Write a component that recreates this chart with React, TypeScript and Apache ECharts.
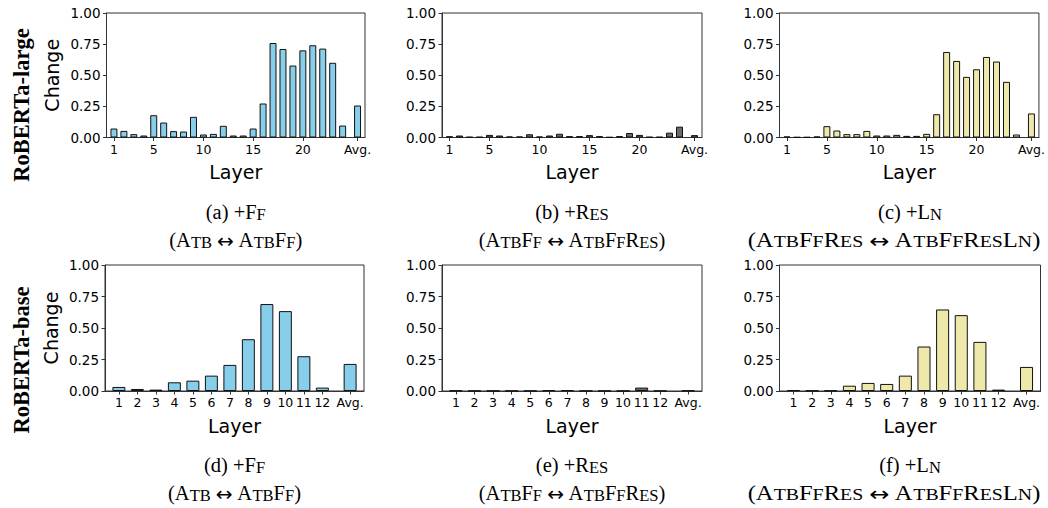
import React, { useEffect, useRef } from "react";
import * as echarts from "echarts";

// ---- data ----
const largeTickLabels = ["1", "5", "10", "15", "20", "Avg."];
const baseTickLabels = ["1", "2", "3", "4", "5", "6", "7", "8", "9", "10", "11", "12", "Avg."];

const largeFf = [0.072, 0.053, 0.027, 0.016, 0.179, 0.12, 0.051, 0.048, 0.166, 0.024, 0.029, 0.094, 0.016, 0.016, 0.072, 0.273, 0.759, 0.711, 0.578, 0.7, 0.741, 0.714, 0.6, 0.096];
const largeFfAvg = 0.257;
const largeRes = [0.01, 0.016, 0.005, 0.005, 0.021, 0.016, 0.008, 0.008, 0.026, 0.008, 0.016, 0.03, 0.011, 0.011, 0.019, 0.011, 0.003, 0.011, 0.036, 0.021, 0.005, 0.005, 0.039, 0.087];
const largeResAvg = 0.019;
const largeLn = [0.008, 0.003, 0.003, 0.008, 0.091, 0.056, 0.027, 0.027, 0.053, 0.016, 0.016, 0.021, 0.013, 0.013, 0.029, 0.187, 0.687, 0.615, 0.487, 0.548, 0.647, 0.61, 0.447, 0.024];
const largeLnAvg = 0.193;

const baseFf = [0.032, 0.016, 0.011, 0.069, 0.082, 0.122, 0.207, 0.411, 0.69, 0.634, 0.276, 0.027];
const baseFfAvg = 0.215;
const baseRes = [0.003, 0.001, 0.001, 0.001, 0.001, 0.006, 0.006, 0.001, 0.001, 0.001, 0.027, 0.001];
const baseResAvg = 0.004;
const baseLn = [0.008, 0.003, 0.003, 0.042, 0.064, 0.056, 0.122, 0.353, 0.647, 0.602, 0.39, 0.011];
const baseLnAvg = 0.191;

const rowLabels = ["RoBERTa-large", "RoBERTa-base"];
const captions = [
  { tag: "(a)", add: "Ff", from: "Atb", to: "AtbFf" },
  { tag: "(b)", add: "Res", from: "AtbFf", to: "AtbFfRes" },
  { tag: "(c)", add: "Ln", from: "AtbFfRes", to: "AtbFfResLn" },
  { tag: "(d)", add: "Ff", from: "Atb", to: "AtbFf" },
  { tag: "(e)", add: "Res", from: "AtbFf", to: "AtbFfRes" },
  { tag: "(f)", add: "Ln", from: "AtbFfRes", to: "AtbFfResLn" },
];

// ---- styles / layout ----
const SKY = "#87CEEB";
const GRAY = "#6b6b6b";
const GOLD = "#EEE8AA";
const SPINE = "#333333";

const rects = [
  { left: 106.5, top: 13, width: 258.5, height: 124.5 },
  { left: 442, top: 13, width: 260, height: 124.5 },
  { left: 779.5, top: 13, width: 261, height: 124.5 },
  { left: 105, top: 265, width: 259, height: 126 },
  { left: 442, top: 265, width: 260, height: 126 },
  { left: 779.5, top: 265, width: 261, height: 126 },
];
// caption line-2 placement tweaks (last column caption is wider in the reference)
const capLine2 = [
  { dx: 0, sx: 1 },
  { dx: 0, sx: 1 },
  { dx: -16, sx: 1.2 },
  { dx: 0, sx: 1 },
  { dx: 0, sx: 1 },
  { dx: -16, sx: 1.2 },
];

const panels = [
  { values: largeFf, avg: largeFfAvg, color: SKY, ticks: largeTickLabels },
  { values: largeRes, avg: largeResAvg, color: GRAY, ticks: largeTickLabels },
  { values: largeLn, avg: largeLnAvg, color: GOLD, ticks: largeTickLabels },
  { values: baseFf, avg: baseFfAvg, color: SKY, ticks: baseTickLabels },
  { values: baseRes, avg: baseResAvg, color: GRAY, ticks: baseTickLabels },
  { values: baseLn, avg: baseLnAvg, color: GOLD, ticks: baseTickLabels },
];

const sc = (s: string) => s.replace(/[a-z]+/g, (m) => `{sc|${m.toUpperCase()}}`);

function buildOption() {
  const grid: any[] = [];
  const xAxis: any[] = [];
  const yAxis: any[] = [];
  const series: any[] = [];
  const graphic: any[] = [];

  panels.forEach((p, i) => {
    const r = rects[i];
    const n = p.values.length;
    const avgPos = n + 1.5;
    const tickVals = p.ticks.map((t) => (t === "Avg." ? avgPos : Number(t)));
    const labelOf = (v: number) => {
      const k = tickVals.findIndex((t) => Math.abs(t - v) < 1e-6);
      return k >= 0 ? p.ticks[k] : "";
    };
    grid.push({ ...r, show: true, borderColor: SPINE, borderWidth: 1, containLabel: false });
    xAxis.push({
      type: "value",
      gridIndex: i,
      min: 0.25,
      max: avgPos + 0.75,
      name: "Layer",
      nameLocation: "middle",
      nameGap: 25,
      nameTextStyle: { fontFamily: "DejaVu Sans", fontSize: 19, color: "#000" },
      axisLine: { show: true, onZero: false, lineStyle: { color: SPINE, width: 1 } },
      axisTick: { show: true, length: 3.5, customValues: tickVals, lineStyle: { color: SPINE } },
      axisLabel: {
        customValues: tickVals,
        formatter: (v: number) => labelOf(v),
        fontFamily: "DejaVu Sans",
        fontSize: 12.5,
        color: "#000",
        margin: 5,
      },
      splitLine: { show: false },
    });
    yAxis.push({
      type: "value",
      gridIndex: i,
      min: 0,
      max: 1,
      interval: 0.25,
      name: i % 3 === 0 ? "Change" : "",
      nameLocation: "middle",
      nameGap: 45,
      nameTextStyle: { fontFamily: "DejaVu Sans", fontSize: 19, color: "#000" },
      axisLine: { show: true, onZero: false, lineStyle: { color: SPINE, width: 1 } },
      axisTick: { show: true, length: 3.5, lineStyle: { color: SPINE } },
      axisLabel: {
        formatter: (v: number) => v.toFixed(2),
        fontFamily: "DejaVu Sans",
        fontSize: 13.5,
        color: "#000",
        margin: 6,
      },
      splitLine: { show: false },
    });
    const data = p.values.map((v, k) => [k + 1, v]);
    data.push([avgPos, p.avg]);
    series.push({
      type: "bar",
      xAxisIndex: i,
      yAxisIndex: i,
      data,
      barWidth: "70%",
      itemStyle: { color: p.color, borderColor: "#111", borderWidth: 1 },
      silent: true,
    });

    const cx = r.left + r.width / 2;
    const c = captions[i];
    const y1 = i < 3 ? 212 : 465;
    const rich = {
      sc: { fontSize: 16.5, fontFamily: "Liberation Serif", fill: "#000", verticalAlign: "bottom" },
      ar: { fontSize: 20, fontFamily: "DejaVu Sans", fill: "#000", verticalAlign: "bottom" },
    };
    graphic.push({
      type: "text",
      x: cx,
      y: y1,
      style: {
        text: `${c.tag} +${sc(c.add)}`,
        fontSize: 20.5,
        fontFamily: "Liberation Serif",
        fill: "#000",
        align: "center",
        verticalAlign: "middle",
        rich,
      },
    });
    graphic.push({
      type: "text",
      x: cx + capLine2[i].dx,
      y: y1 + 28,
      scaleX: capLine2[i].sx,
      style: {
        text: `(${sc(c.from)} {ar|\u2194} ${sc(c.to)})`,
        fontSize: 20.5,
        fontFamily: "Liberation Serif",
        fill: "#000",
        align: "center",
        verticalAlign: "middle",
        rich,
      },
    });
  });

  rowLabels.forEach((t, k) => {
    graphic.push({
      type: "text",
      x: 21,
      y: k === 0 ? 105 : 360,
      rotation: Math.PI / 2,
      style: {
        text: t,
        fontSize: 22.5,
        fontWeight: "bold",
        fontFamily: "Liberation Serif",
        fill: "#000",
        align: "center",
        verticalAlign: "middle",
      },
    });
  });

  return {
    animation: false,
    backgroundColor: "#fff",
    grid,
    xAxis,
    yAxis,
    series,
    graphic,
  };
}

export default function App() {
  const ref = useRef<HTMLDivElement>(null);
  useEffect(() => {
    if (!ref.current) return;
    const chart = echarts.init(ref.current, null, { renderer: "svg" });
    chart.setOption(buildOption() as any);
    return () => chart.dispose();
  }, []);
  return (
    <div
      ref={ref}
      style={{ position: "absolute", left: 0, top: 0, width: 1048, height: 508, background: "#fff" }}
    />
  );
}
